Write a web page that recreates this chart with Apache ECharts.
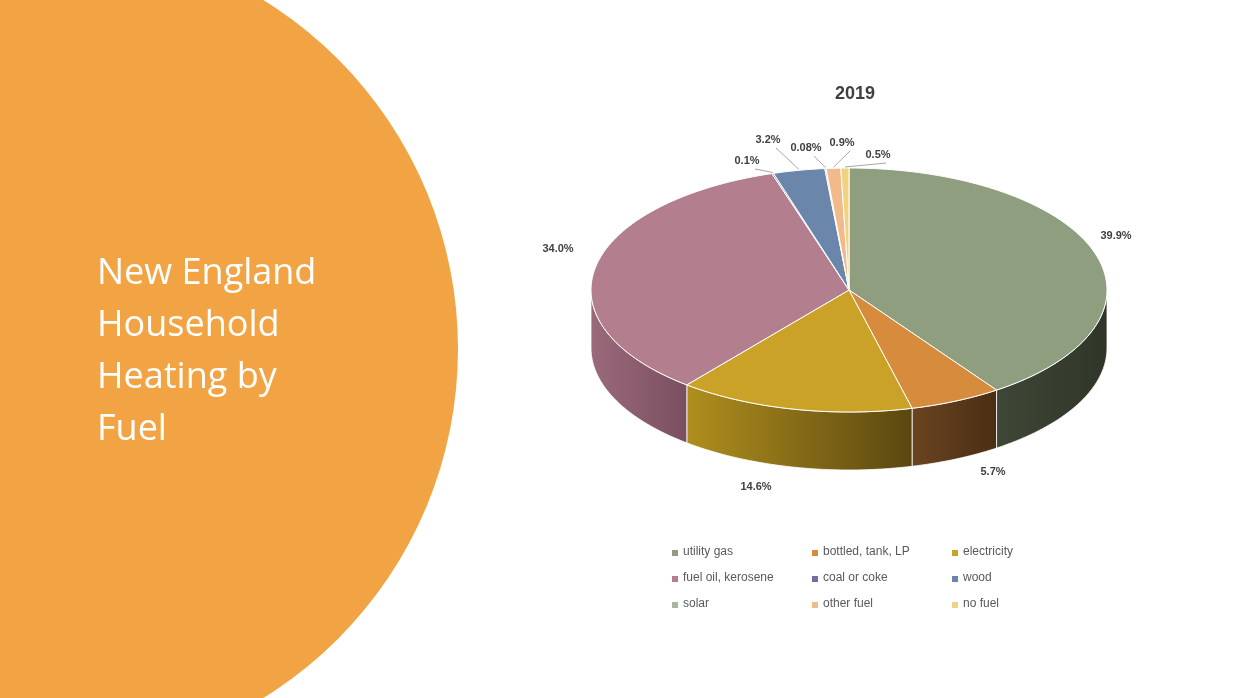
<!DOCTYPE html>
<html><head><meta charset="utf-8">
<script src="https://cdn.jsdelivr.net/npm/echarts@6/dist/echarts.min.js"></script>
<style>html,body{margin:0;padding:0;background:#fff}#chart{width:1240px;height:698px}</style>
</head><body><div id="chart"></div>
<script>
var fuels = ['utility gas', 'bottled, tank, LP', 'electricity', 'fuel oil, kerosene', 'coal or coke', 'wood', 'solar', 'other fuel', 'no fuel'];
var shares = [39.9, 5.7, 14.6, 34.0, 0.1, 3.2, 0.08, 0.9, 0.5];
var labels = ['39.9%', '5.7%', '14.6%', '34.0%', '0.1%', '3.2%', '0.08%', '0.9%', '0.5%'];
var topColors = ['#8f9e7f', '#d68c3c', '#c9a227', '#b37f8f', '#7b6aa0', '#6a86aa', '#a9b89a', '#f2b98a', '#f0d27f'];
var sideColors = [['#3e4736', '#2f3628'], ['#6a4420', '#4a2e14'], ['#b08f1e', '#5a4710'], ['#9a6a7b', '#7a4f5f'], ['#5a4a7a', '#4a3a6a'], ['#4a6080', '#3a5070'], ['#7a8a6a', '#6a7a5a'], ['#c08a5a', '#a0704a'], ['#c0a050', '#a08040']];
// label anchor positions (layout only)
var labelPos = [[1116, 236], [993, 472], [756, 487], [558, 249], [747, 161], [768, 140], [806, 148], [842, 143], [878, 155]];

var cx = 849, cy = 290, rx = 258, ry = 122, depth = 58;
var chart = echarts.init(document.getElementById('chart'));

function pt(t, dy) {
    return [cx + rx * Math.sin(t), cy - ry * Math.cos(t) + (dy || 0)];
}

function renderPie(params, api) {
    var total = shares.reduce(function (a, b) { return a + b; }, 0);
    var sides = [], tops = [], lines = [];
    var a = 0;
    for (var i = 0; i < shares.length; i++) {
        var b = a + shares[i] / total * Math.PI * 2;
        // visible outer wall: front half (pi/2 .. 3pi/2)
        var s = Math.max(a, Math.PI / 2), e = Math.min(b, Math.PI * 1.5);
        if (e > s) {
            var poly = [], back = [];
            for (var k = 0; k <= 40; k++) {
                var t = s + (e - s) * k / 40;
                poly.push(pt(t, 0));
                back.push(pt(t, depth));
            }
            sides.push({
                type: 'polygon', shape: {points: poly.concat(back.reverse())},
                style: {fill: new echarts.graphic.LinearGradient(0, 0, 1, 0, [{offset: 0, color: sideColors[i][0]}, {offset: 1, color: sideColors[i][1]}]), stroke: '#fff', lineWidth: 0.8}
            });
        }
        var top = [[cx, cy]];
        var n = Math.max(2, Math.ceil((b - a) * 40));
        for (var k = 0; k <= n; k++) top.push(pt(a + (b - a) * k / n, 0));
        tops.push({type: 'polygon', shape: {points: top}, style: {fill: topColors[i], stroke: '#fff', lineWidth: 1}});
        var lp = labelPos[i];
        if (shares[i] < 4) {
            var m = pt((a + b) / 2, 0);
            lines.push({type: 'polyline', shape: {points: [[lp[0] + 8, lp[1] + 8], [m[0], m[1] - 1]]}, style: {stroke: '#a6a6a6', lineWidth: 1, fill: null}});
        }
        lines.push({type: 'text', x: lp[0], y: lp[1], style: {text: labels[i], fill: '#404040', font: 'bold 11px "Liberation Sans", sans-serif', align: 'center', verticalAlign: 'middle'}});
        a = b;
    }
    return {type: 'group', children: sides.concat(tops, lines)};
}

var legend = [];
var colX = [672, 812, 952], rowY = [553, 579, 605];
fuels.forEach(function (f, i) {
    var x = colX[i % 3], y = rowY[Math.floor(i / 3)];
    legend.push({type: 'rect', left: x, top: y - 3, shape: {width: 6, height: 6}, style: {fill: topColors[i]}});
    legend.push({type: 'text', left: x + 11, top: y - 7, style: {text: f, fill: '#595959', font: '12px "Liberation Sans", sans-serif'}});
});

chart.setOption({
    backgroundColor: '#fff',
    animation: false,
    title: {text: '2019', left: 850, top: 80, textAlign: 'center', textStyle: {fontSize: 18, fontWeight: 'bold', color: '#404040', fontFamily: 'Liberation Sans'}},
    graphic: [
        {type: 'circle', shape: {cx: 48, cy: 349, r: 410}, style: {fill: '#f2a444'}, z: -1},
        {type: 'text', left: 97, top: 248, style: {text: 'New England\nHousehold\nHeating by\nFuel', fill: '#fff', font: '36px "Open Sans", sans-serif', lineHeight: 52}}
    ].concat(legend),
    xAxis: {show: false}, yAxis: {show: false},
    series: [{type: 'custom', coordinateSystem: 'none', renderItem: renderPie, data: [0]}]
});
</script></body></html>
